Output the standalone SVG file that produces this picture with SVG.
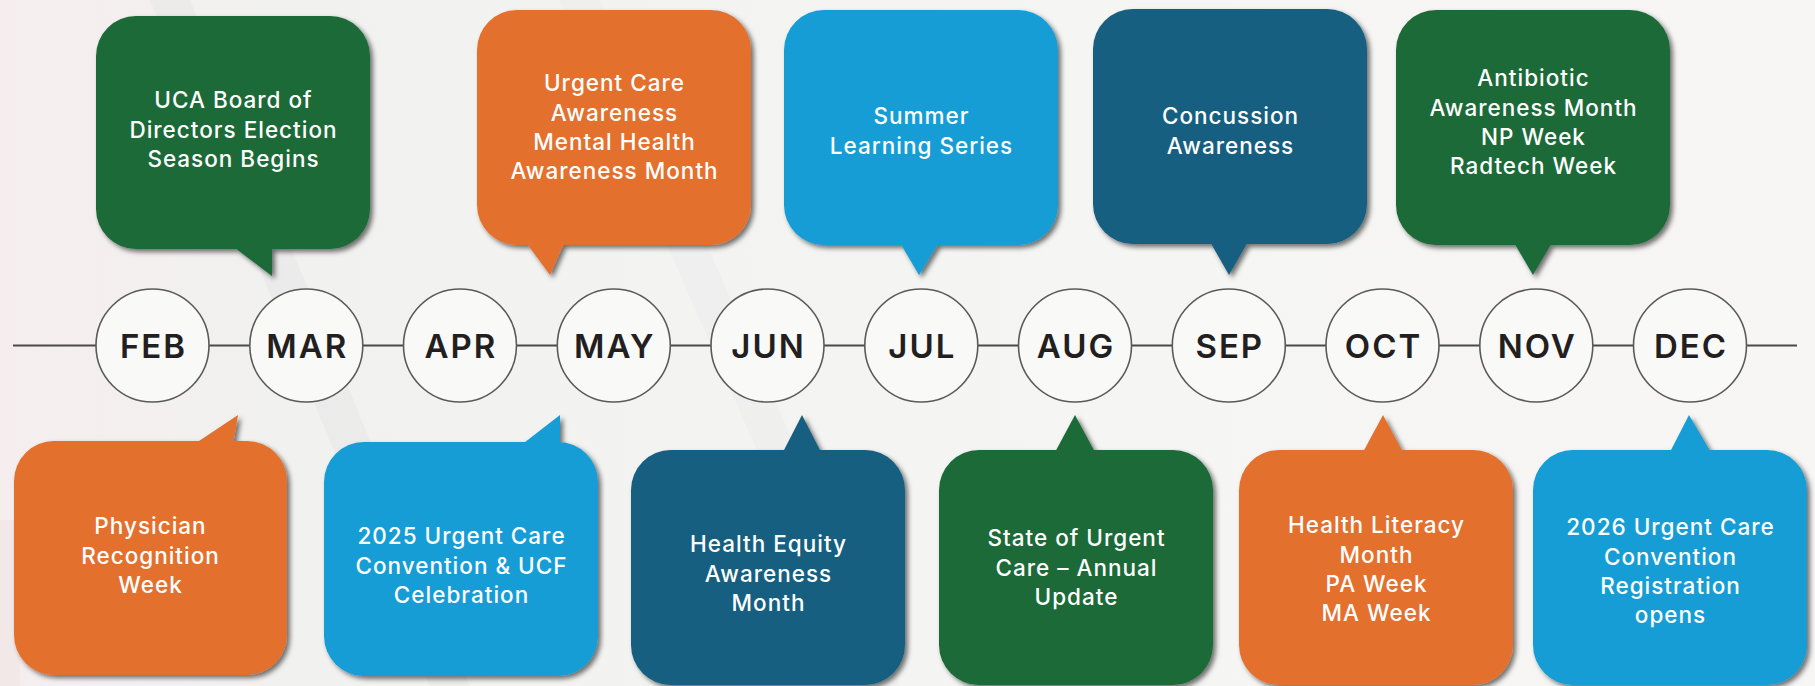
<svg xmlns="http://www.w3.org/2000/svg" width="1815" height="686" viewBox="0 0 1815 686">
  <defs>
    <filter id="sh" x="-10%" y="-10%" width="125%" height="125%">
      <feDropShadow dx="3" dy="3" stdDeviation="2.5" flood-color="#000" flood-opacity="0.55"/>
    </filter>
    <linearGradient id="bg" x1="0" y1="0" x2="1" y2="0">
      <stop offset="0" stop-color="#f6eeee"/>
      <stop offset="0.15" stop-color="#f1f1f0"/>
      <stop offset="0.6" stop-color="#f5f5f4"/>
      <stop offset="1" stop-color="#f7f6f4"/>
    </linearGradient>
    <style>
      .green{fill:#1d6b38}
      .orange{fill:#e4702e}
      .blue{fill:#129dd6}
      .teal{fill:#165e80}
      .t{font-family:Inter,"Noto Sans","Liberation Sans",sans-serif;font-size:22.5px;font-weight:500;fill:#ffffff;text-anchor:middle;letter-spacing:1px}
      .m{font-family:Inter,"Noto Sans","Liberation Sans",sans-serif;font-size:33px;font-weight:600;fill:#231f20;text-anchor:middle;letter-spacing:2px}
      .c{fill:#f9f9f8;stroke:#5a5a5a;stroke-width:1.6}
      .ln{stroke:#4a4a4a;stroke-width:2.2;fill:none}
    </style>
  </defs>
  <rect x="0" y="0" width="1815" height="686" fill="url(#bg)"/>
  <g opacity="0.5">
    <path d="M150 0 L190 0 L470 686 L430 686 Z" fill="#e6e6e6"/>
    <path d="M560 0 L600 0 L900 686 L860 686 Z" fill="#ececec"/>
    <path d="M0 520 L20 520 L20 686 L0 686 Z" fill="#f0e4e4"/>
  </g>

  <g id="connectors">
    <line class="ln" x1="13" y1="345.5" x2="1797" y2="345.5"/>
  </g>

  <g id="months">
    <g id="m-feb"><circle class="c" cx="152.5" cy="345.5" r="56.5"/><text class="m" x="153.5" y="357.5">FEB</text></g>
    <g id="m-mar"><circle class="c" cx="306.3" cy="345.5" r="56.5"/><text class="m" x="307.3" y="357.5">MAR</text></g>
    <g id="m-apr"><circle class="c" cx="460" cy="345.5" r="56.5"/><text class="m" x="461" y="357.5">APR</text></g>
    <g id="m-may"><circle class="c" cx="613.8" cy="345.5" r="56.5"/><text class="m" x="614.8" y="357.5">MAY</text></g>
    <g id="m-jun"><circle class="c" cx="767.5" cy="345.5" r="56.5"/><text class="m" x="768.5" y="357.5">JUN</text></g>
    <g id="m-jul"><circle class="c" cx="921.3" cy="345.5" r="56.5"/><text class="m" x="922.3" y="357.5">JUL</text></g>
    <g id="m-aug"><circle class="c" cx="1075" cy="345.5" r="56.5"/><text class="m" x="1076" y="357.5">AUG</text></g>
    <g id="m-sep"><circle class="c" cx="1228.8" cy="345.5" r="56.5"/><text class="m" x="1229.8" y="357.5">SEP</text></g>
    <g id="m-oct"><circle class="c" cx="1382.5" cy="345.5" r="56.5"/><text class="m" x="1383.5" y="357.5">OCT</text></g>
    <g id="m-nov"><circle class="c" cx="1536.3" cy="345.5" r="56.5"/><text class="m" x="1537.3" y="357.5">NOV</text></g>
    <g id="m-dec"><circle class="c" cx="1690" cy="345.5" r="56.5"/><text class="m" x="1691" y="357.5">DEC</text></g>
  </g>

  <g id="top-mar" class="green">
    <g filter="url(#sh)"><rect x="96" y="16" width="274" height="233" rx="40"/><polygon points="231,245 272,245 272,276"/></g>
    <text class="t"><tspan x="233.5" y="108">UCA Board of</tspan><tspan x="233.5" y="137.5">Directors Election</tspan><tspan x="233.5" y="167">Season Begins</tspan></text>
  </g>
  <g id="top-may" class="orange">
    <g filter="url(#sh)"><rect x="477" y="10" width="274" height="235" rx="40"/><polygon points="525,241 565,241 550,275"/></g>
    <text class="t"><tspan x="614.5" y="91">Urgent Care</tspan><tspan x="614.5" y="120.5">Awareness</tspan><tspan x="614.5" y="150">Mental Health</tspan><tspan x="614.5" y="179">Awareness Month</tspan></text>
  </g>
  <g id="top-jul" class="blue">
    <g filter="url(#sh)"><rect x="784" y="10" width="274" height="235" rx="40"/><polygon points="899,241 940,241 919,275"/></g>
    <text class="t"><tspan x="921.5" y="124">Summer</tspan><tspan x="921.5" y="153.5">Learning Series</tspan></text>
  </g>
  <g id="top-sep" class="teal">
    <g filter="url(#sh)"><rect x="1093" y="9" width="274" height="235" rx="40"/><polygon points="1209,240 1249,240 1229,275"/></g>
    <text class="t"><tspan x="1230.5" y="124">Concussion</tspan><tspan x="1230.5" y="153.5">Awareness</tspan></text>
  </g>
  <g id="top-nov" class="green">
    <g filter="url(#sh)"><rect x="1396" y="10" width="274" height="235" rx="40"/><polygon points="1513,241 1553,241 1533,275"/></g>
    <text class="t"><tspan x="1533.5" y="86">Antibiotic</tspan><tspan x="1533.5" y="115.5">Awareness Month</tspan><tspan x="1533.5" y="145">NP Week</tspan><tspan x="1533.5" y="174">Radtech Week</tspan></text>
  </g>

  <g id="bot-feb" class="orange">
    <g filter="url(#sh)"><rect x="14" y="441" width="273" height="234" rx="40"/><polygon points="193,445 233,445 238,415"/></g>
    <text class="t"><tspan x="150.5" y="534">Physician</tspan><tspan x="150.5" y="563.5">Recognition</tspan><tspan x="150.5" y="593">Week</tspan></text>
  </g>
  <g id="bot-apr" class="blue">
    <g filter="url(#sh)"><rect x="324" y="442" width="274" height="234" rx="40"/><polygon points="520,446 560,446 560,415"/></g>
    <text class="t"><tspan x="461.5" y="544">2025 Urgent Care</tspan><tspan x="461.5" y="573.5">Convention &amp; UCF</tspan><tspan x="461.5" y="603">Celebration</tspan></text>
  </g>
  <g id="bot-jun" class="teal">
    <g filter="url(#sh)"><rect x="631" y="450" width="274" height="235" rx="40"/><polygon points="782,454 822,454 802,415"/></g>
    <text class="t"><tspan x="768.5" y="552">Health Equity</tspan><tspan x="768.5" y="581.5">Awareness</tspan><tspan x="768.5" y="611">Month</tspan></text>
  </g>
  <g id="bot-aug" class="green">
    <g filter="url(#sh)"><rect x="939" y="450" width="274" height="235" rx="40"/><polygon points="1054,454 1096,454 1075,415"/></g>
    <text class="t"><tspan x="1076.5" y="546">State of Urgent</tspan><tspan x="1076.5" y="575.5">Care – Annual</tspan><tspan x="1076.5" y="605">Update</tspan></text>
  </g>
  <g id="bot-oct" class="orange">
    <g filter="url(#sh)"><rect x="1239" y="450" width="274" height="235" rx="40"/><polygon points="1362,454 1404,454 1383,415"/></g>
    <text class="t"><tspan x="1376.5" y="533">Health Literacy</tspan><tspan x="1376.5" y="562.5">Month</tspan><tspan x="1376.5" y="592">PA Week</tspan><tspan x="1376.5" y="621">MA Week</tspan></text>
  </g>
  <g id="bot-dec" class="blue">
    <g filter="url(#sh)"><rect x="1533" y="450" width="274" height="235" rx="40"/><polygon points="1669,454 1712,454 1689,415"/></g>
    <text class="t"><tspan x="1670.5" y="535">2026 Urgent Care</tspan><tspan x="1670.5" y="564.5">Convention</tspan><tspan x="1670.5" y="594">Registration</tspan><tspan x="1670.5" y="623">opens</tspan></text>
  </g>
</svg>
